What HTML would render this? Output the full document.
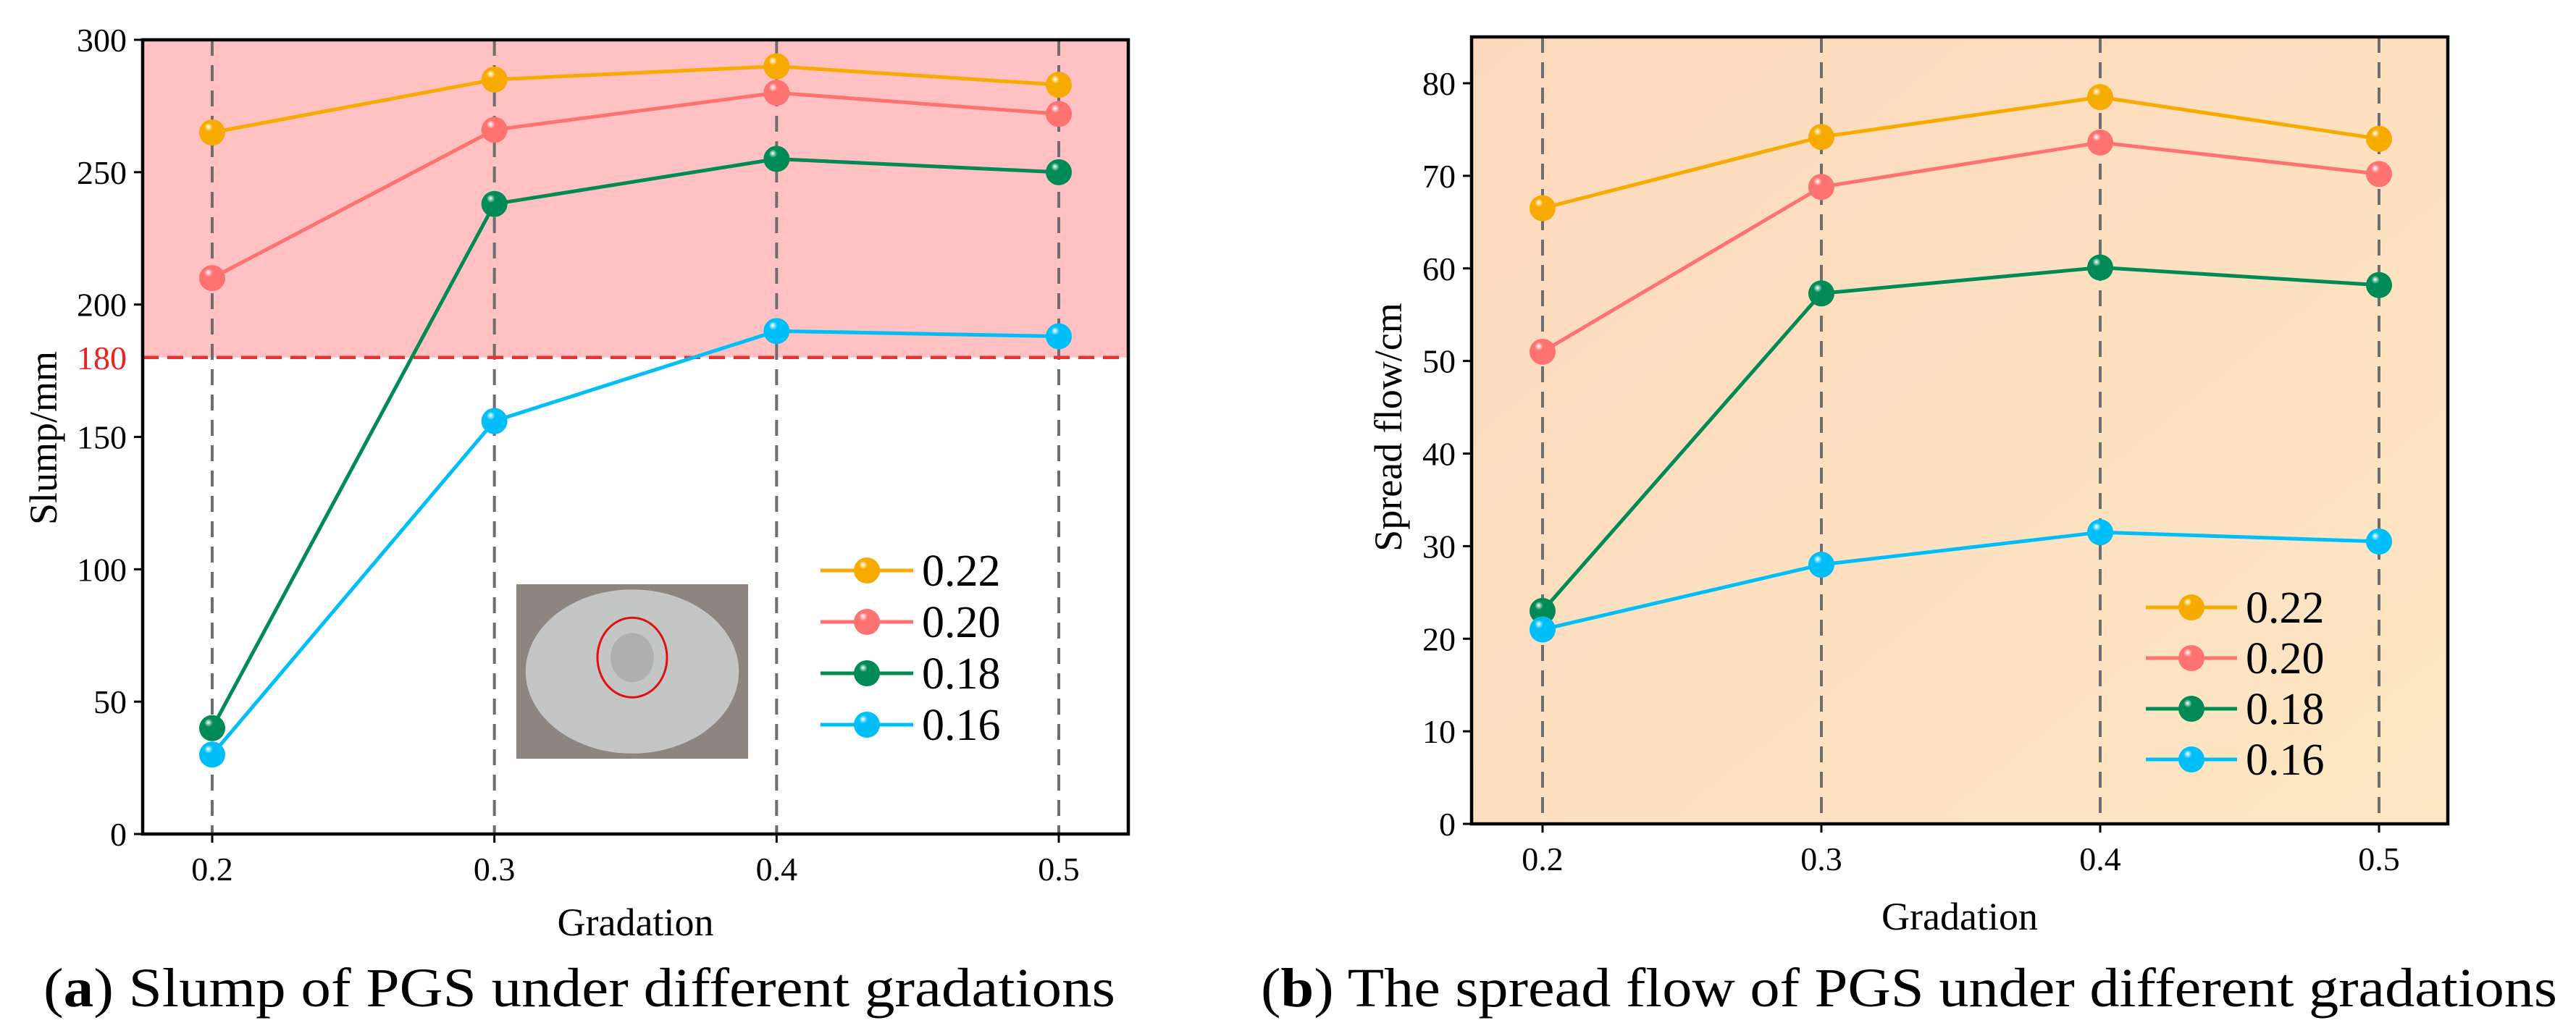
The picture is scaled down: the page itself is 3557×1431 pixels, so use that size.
<!DOCTYPE html>
<html><head><meta charset="utf-8"><style>
html,body{margin:0;padding:0;background:#fff;}
svg{display:block;font-family:"Liberation Serif",serif;}
</style></head><body>
<svg id="fig" width="3557" height="1431" viewBox="0 0 3557 1431" xmlns="http://www.w3.org/2000/svg">
<defs>
<linearGradient id="peach" x1="0" y1="0" x2="1" y2="1"><stop offset="0" stop-color="#fcd9bd"/><stop offset="1" stop-color="#fde7c3"/></linearGradient>
</defs>
<g id="chartA"></g>
<g id="chartB"></g>
<text x="60" y="1390" font-size="76" textLength="1480" lengthAdjust="spacingAndGlyphs">(<tspan font-weight="bold">a</tspan>) Slump of PGS under different gradations</text>
<text x="1741" y="1390" font-size="76" textLength="1790" lengthAdjust="spacingAndGlyphs">(<tspan font-weight="bold">b</tspan>) The spread flow of PGS under different gradations</text>
</svg>
<script>
const categories = [0.2, 0.3, 0.4, 0.5];
const seriesNames = ["0.22", "0.20", "0.18", "0.16"];
const slump022 = [265, 285, 290, 283];
const slump020 = [210, 266, 280, 272];
const slump018 = [40, 238, 255, 250];
const slump016 = [30, 156, 190, 188];
const spread022 = [66.5, 74.2, 78.5, 74];
const spread020 = [51, 68.8, 73.6, 70.2];
const spread018 = [23, 57.3, 60.1, 58.2];
const spread016 = [21, 28, 31.5, 30.5];
const slumpTicks = [0, 50, 100, 150, 200, 250, 300];
const spreadTicks = [0, 10, 20, 30, 40, 50, 60, 70, 80];
const slumpThreshold = 180;
const colors = ["#f7ab00", "#ff7272", "#008a55", "#00bff8"];

const NS = "http://www.w3.org/2000/svg";
function mk(parent, tag, attrs, text) {
  const e = document.createElementNS(NS, tag);
  for (const k in attrs) e.setAttribute(k, attrs[k]);
  if (text !== undefined) e.textContent = text;
  parent.appendChild(e);
  return e;
}
const defs = document.querySelector("defs");
colors.forEach((c, i) => {
  const g = mk(defs, "radialGradient", {id: "sph" + i, cx: "0.4", cy: "0.35", r: "0.65", fx: "0.35", fy: "0.28"});
  mk(g, "stop", {offset: "0", "stop-color": "#ffffff"});
  mk(g, "stop", {offset: "0.25", "stop-color": c});
  mk(g, "stop", {offset: "1", "stop-color": c});
});

function drawChart(root, cfg) {
  const xs = v => cfg.x0 + (v - 0.2) / 0.3 * (cfg.x1 - cfg.x0);
  const ys = v => cfg.yb - v / cfg.ymax * (cfg.yb - cfg.yt);
  const bg = mk(root, "rect", {x: cfg.L, y: cfg.T, width: cfg.R - cfg.L, height: cfg.B - cfg.T, fill: cfg.bg});
  
  
  if (cfg.threshold !== undefined) {
    const band = mk(root, "rect", {x: cfg.L, y: cfg.T, width: cfg.R - cfg.L, height: ys(cfg.threshold) - cfg.T, fill: "#ffc1c1"});
    
    
  }
  categories.forEach(c => {
    const l = mk(root, "line", {x1: xs(c), x2: xs(c), y1: cfg.T, y2: cfg.B, stroke: "#6e6e6e", "stroke-width": 4, "stroke-dasharray": "22 13"});
    
    
  });
  if (cfg.threshold !== undefined) {
    const tl = mk(root, "line", {x1: cfg.L, x2: cfg.R, y1: ys(cfg.threshold), y2: ys(cfg.threshold), stroke: "#f03030", "stroke-width": 4.5, "stroke-dasharray": "22 12"});
    
    
    const tt = mk(root, "text", {x: cfg.L - 22, y: ys(cfg.threshold) + 16, "font-size": 46, fill: "#f02020", "text-anchor": "end"}, String(cfg.threshold));
    
    
  }
  if (cfg.photo) {
    const p = cfg.photo;
    const ph = mk(root, "g", {});
    
    
    mk(ph, "rect", {x: p[0], y: p[1], width: p[2], height: p[3], fill: "#8d8580"});
    mk(ph, "ellipse", {cx: p[0] + p[2] * 0.5, cy: p[1] + p[3] * 0.5, rx: p[2] * 0.46, ry: p[3] * 0.47, fill: "#c4c6c6"});
    mk(ph, "ellipse", {cx: p[0] + p[2] * 0.5, cy: p[1] + p[3] * 0.42, rx: 30, ry: 34, fill: "#aeb0b0"});
    mk(ph, "ellipse", {cx: p[0] + p[2] * 0.5, cy: p[1] + p[3] * 0.42, rx: 48, ry: 55, fill: "none", stroke: "#e01010", "stroke-width": 3});
  }
  cfg.series.forEach((vals, i) => {
    const g = mk(root, "g", {});
    
    
    const pts = vals.map((v, j) => xs(categories[j]) + "," + ys(v)).join(" ");
    const pl = mk(g, "polyline", {points: pts, fill: "none", stroke: colors[i], "stroke-width": 5});
    
    
    vals.forEach((v, j) => {
      const c = mk(g, "circle", {cx: xs(categories[j]), cy: ys(v), r: 18, fill: "url(#sph" + i + ")"});
      
      
    });
  });
  const fr = mk(root, "rect", {x: cfg.L, y: cfg.T, width: cfg.R - cfg.L, height: cfg.B - cfg.T, fill: "none", stroke: "#000", "stroke-width": 4.5});
  
  
  cfg.ticks.forEach(t => {
    const tk = mk(root, "line", {x1: cfg.L - 12, x2: cfg.L, y1: ys(t), y2: ys(t), stroke: "#000", "stroke-width": 3});
    
    
    const tl = mk(root, "text", {x: cfg.L - 22, y: ys(t) + 16, "font-size": 46, "text-anchor": "end"}, String(t));
    
    
  });
  categories.forEach(c => {
    const tk = mk(root, "line", {x1: xs(c), x2: xs(c), y1: cfg.B, y2: cfg.B + 12, stroke: "#000", "stroke-width": 3});
    
    
    const tl = mk(root, "text", {x: xs(c), y: cfg.B + 64, "font-size": 46, "text-anchor": "middle"}, c.toFixed(1));
    
    
  });
  const xt = mk(root, "text", {x: (cfg.L + cfg.R) / 2, y: cfg.xTitleY, "font-size": 54, "text-anchor": "middle"}, "Gradation");
  
  
  const yt = mk(root, "text", {x: 0, y: 0, "font-size": 54, "text-anchor": "middle", transform: "translate(" + cfg.yTitleX + "," + cfg.yTitleY + ") rotate(-90)"}, cfg.yTitle);
  
  
  const lg = mk(root, "g", {});
  
  
  seriesNames.forEach((n, i) => {
    const y = cfg.leg.y0 + i * cfg.leg.dy;
    const e = mk(lg, "g", {});
    
    
    mk(e, "line", {x1: cfg.leg.x0, x2: cfg.leg.x1, y1: y, y2: y, stroke: colors[i], "stroke-width": 5});
    mk(e, "circle", {cx: (cfg.leg.x0 + cfg.leg.x1) / 2, cy: y, r: 18, fill: "url(#sph" + i + ")"});
    mk(e, "text", {x: cfg.leg.x1 + 12, y: y + 21, "font-size": 62}, n);
  });
}

drawChart(document.getElementById("chartA"), {
  L: 197, R: 1558, T: 55, B: 1152, x0: 293, x1: 1462, yb: 1152, yt: 55, ymax: 300,
  bg: "#ffffff", threshold: slumpThreshold, ticks: slumpTicks,
  series: [slump022, slump020, slump018, slump016],
  photo: [713, 807, 320, 241],
  xTitleY: 1292, yTitle: "Slump/mm", yTitleX: 78, yTitleY: 605,
  leg: {x0: 1133, x1: 1261, y0: 788, dy: 71}
});
drawChart(document.getElementById("chartB"), {
  L: 2032, R: 3380, T: 51, B: 1138, x0: 2130, x1: 3285, yb: 1138, yt: 115, ymax: 80,
  bg: "url(#peach)", ticks: spreadTicks,
  series: [spread022, spread020, spread018, spread016],
  xTitleY: 1284, yTitle: "Spread flow/cm", yTitleX: 1935, yTitleY: 590,
  leg: {x0: 2963, x1: 3089, y0: 839, dy: 70}
});
</script>
</body></html>
